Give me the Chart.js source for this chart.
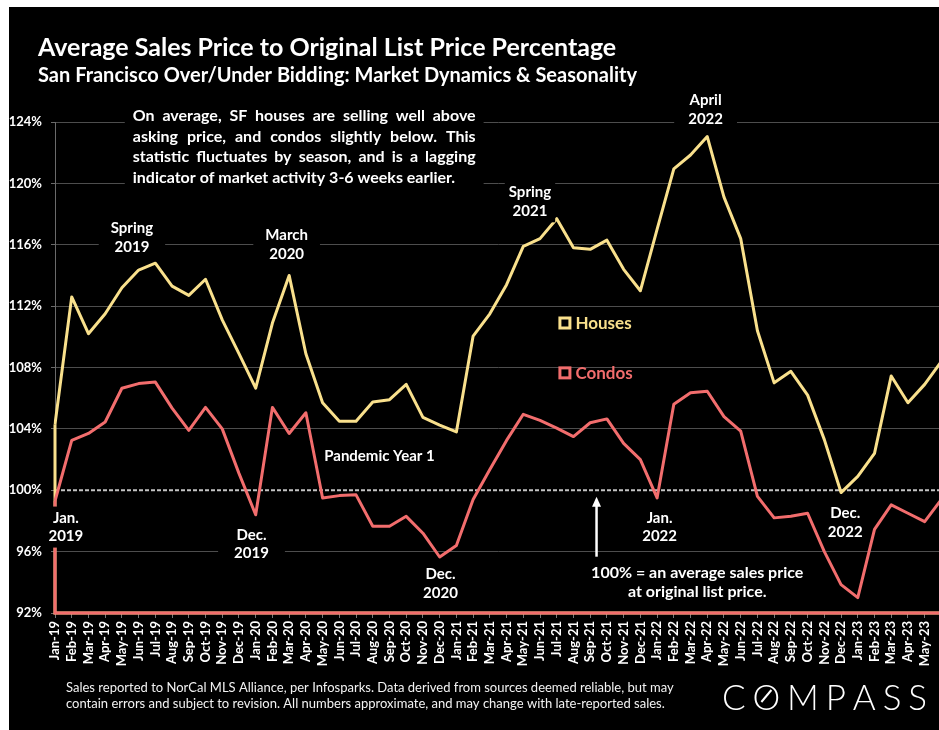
<!DOCTYPE html>
<html>
<head>
<meta charset="utf-8">
<script src="https://cdn.jsdelivr.net/npm/chart.js@4.4.1/dist/chart.umd.min.js"></script>
<style>
  html, body { margin: 0; padding: 0; background: #fff; overflow: hidden; width: 939px; height: 730px; }
  #wrap { position: absolute; left: 0; top: 0; width: 960px; height: 730px; }
</style>
</head>
<body>
<div id="wrap"><canvas id="chart" width="960" height="730"></canvas></div>
<script>
Chart.defaults.font.family = "Lato, 'Open Sans', sans-serif";
Chart.defaults.color = '#fff';

const YELLOW = '#F9E08C';
const RED = '#F26D6D';
const GRID = '#4d4d4d';

const months = [
  'Jan-19','Feb-19','Mar-19','Apr-19','May-19','Jun-19','Jul-19','Aug-19','Sep-19','Oct-19','Nov-19','Dec-19',
  'Jan-20','Feb-20','Mar-20','Apr-20','May-20','Jun-20','Jul-20','Aug-20','Sep-20','Oct-20','Nov-20','Dec-20',
  'Jan-21','Feb-21','Mar-21','Apr-21','May-21','Jun-21','Jul-21','Aug-21','Sep-21','Oct-21','Nov-21','Dec-21',
  'Jan-22','Feb-22','Mar-22','Apr-22','May-22','Jun-22','Jul-22','Aug-22','Sep-22','Oct-22','Nov-22','Dec-22',
  'Jan-23','Feb-23','Mar-23','Apr-23','May-23','Jun-23'
];

const houses = [
  104.3, 112.6, 110.2, 111.5, 113.2, 114.35, 114.8, 113.3, 112.7, 113.75, 111.1, 108.9,
  106.65, 110.9, 114.0, 108.9, 105.7, 104.5, 104.5, 105.75, 105.9, 106.9, 104.75, 104.25,
  103.8, 110.05, 111.5, 113.4, 115.9, 116.4, 117.7, 115.8, 115.7, 116.3, 114.4, 113.0,
  117.0, 120.95, 121.85, 123.05, 119.1, 116.4, 110.4, 107.0, 107.75, 106.2, 103.3, 99.85,
  100.9, 102.4, 107.45, 105.7, 106.9, 108.4
];

const condos = [
  99.3, 103.25, 103.7, 104.45, 106.65, 106.95, 107.05, 105.35, 103.9, 105.4, 104.0, 101.1,
  98.4, 105.4, 103.7, 105.05, 99.5, 99.65, 99.7, 97.65, 97.65, 98.3, 97.2, 95.65,
  96.4, 99.4, 101.35, 103.25, 104.95, 104.55, 104.05, 103.5, 104.4, 104.65, 103.05, 102.0,
  99.5, 105.6, 106.35, 106.45, 104.8, 103.85, 99.6, 98.2, 98.3, 98.5, 96.0, 93.85,
  93.0, 97.45, 99.05, 98.5, 97.95, 99.4
];

const Y_MIN = 92, Y_MAX = 124, Y_STEP = 4;
const PAR = 100; // sales price equal to list price

const title = 'Average Sales Price to Original List Price Percentage';
const subtitle = 'San Francisco Over/Under Bidding: Market Dynamics & Seasonality';
const paragraph = [
  'On average, SF houses are selling well above',
  'asking price, and condos slightly below. This',
  'statistic fluctuates by season, and is a lagging',
  'indicator of market activity 3-6 weeks earlier.'
];
const parNote = ['100% = an average sales price', 'at original list price.'];
const footer = [
  'Sales reported to NorCal MLS Alliance, per Infosparks. Data derived from sources deemed reliable, but may',
  'contain errors and subject to revision. All numbers approximate, and may change with late-reported sales.'
];

// callouts, anchored in data units: [month index, percent]
const notes = [
  { lines: ['Spring', '2019'], at: [4.6, 116.45], pad: 12 },
  { lines: ['March', '2020'], at: [13.85, 116.0], pad: 12 },
  { lines: ['Spring', '2021'], at: [28.4, 118.8], pad: 4 },
  { lines: ['April', '2022'], at: [38.9, 124.8], pad: 14 },
  { lines: ['Jan.', '2019'], at: [0.65, 97.6], pad: 4 },
  { lines: ['Dec.', '2019'], at: [11.75, 96.5], pad: 16 },
  { lines: ['Pandemic Year 1'], at: [19.4, 102.25], pad: 4 },
  { lines: ['Dec.', '2020'], at: [23.05, 93.9], pad: 4 },
  { lines: ['Jan.', '2022'], at: [36.15, 97.6], pad: 4 },
  { lines: ['Dec.', '2022'], at: [47.25, 97.9], pad: 4 }
];

function block(ctx, lines, cx, cy, lh, pad) {
  const w = Math.max(...lines.map(l => ctx.measureText(l).width));
  const h = lines.length * lh;
  ctx.fillStyle = '#000';
  ctx.fillRect(cx - w / 2 - pad, cy - h / 2 - 2, w + pad * 2, h + 4);
  ctx.fillStyle = '#fff';
  ctx.textAlign = 'center';
  ctx.textBaseline = 'middle';
  lines.forEach((l, i) => ctx.fillText(l, cx, cy - h / 2 + lh * (i + 0.5)));
}

function justified(ctx, lines, left, right, top, lh) {
  ctx.textAlign = 'left';
  ctx.textBaseline = 'middle';
  ctx.fillStyle = '#000';
  ctx.fillRect(left - 8, top - lh / 2 - 2, right - left + 16, lh * lines.length + 4);
  ctx.fillStyle = '#fff';
  lines.forEach((line, i) => {
    const y = top + i * lh;
    const words = line.split(' ');
    if (i === lines.length - 1) { ctx.fillText(line, left, y); return; }
    const used = words.reduce((s, w) => s + ctx.measureText(w).width, 0);
    const gap = (right - left - used) / (words.length - 1);
    let x = left;
    words.forEach(w => { ctx.fillText(w, x, y); x += ctx.measureText(w).width + gap; });
  });
}

const backdrop = {
  id: 'backdrop',
  beforeDraw(chart) {
    const ctx = chart.ctx;
    ctx.save();
    ctx.fillStyle = '#fff';
    ctx.fillRect(0, 0, chart.width, chart.height);
    ctx.fillStyle = '#000';
    ctx.fillRect(9, 7, chart.width, chart.height);
    ctx.restore();
  },
  beforeDatasetsDraw(chart) {
    const { ctx, chartArea, scales } = chart;
    const y = scales.y.getPixelForValue(PAR);
    ctx.save();
    ctx.strokeStyle = '#c4c4c4';
    ctx.lineWidth = 2;
    ctx.setLineDash([4, 2]);
    ctx.beginPath();
    ctx.moveTo(chartArea.left, y);
    ctx.lineTo(chartArea.right, y);
    ctx.stroke();
    ctx.restore();
  }
};

// area-chart style outline: drop each series down to the axis floor
const outline = {
  id: 'outline',
  afterDatasetDraw(chart, args) {
    const pts = args.meta.data;
    const ds = chart.data.datasets[args.index];
    const floor = chart.chartArea.bottom;
    const last = pts[pts.length - 1];
    const ctx = chart.ctx;
    ctx.save();
    ctx.strokeStyle = ds.borderColor;
    ctx.lineWidth = ds.borderWidth;
    ctx.beginPath();
    ctx.moveTo(pts[0].x, pts[0].y);
    ctx.lineTo(pts[0].x, floor);
    ctx.lineTo(last.x, floor);
    ctx.lineTo(last.x, last.y);
    ctx.stroke();
    ctx.restore();
  }
};

const labels = {
  id: 'labels',
  afterDatasetsDraw(chart) {
    const { ctx, scales } = chart;
    const px = v => scales.x.getPixelForValue(v);
    const py = v => scales.y.getPixelForValue(v);
    ctx.save();

    ctx.font = 'bold 16px Lato';
    justified(ctx, paragraph, px(4.65), px(25.15), py(124.4), 20.7);

    ctx.font = 'bold 15px Lato';
    notes.forEach(n => block(ctx, n.lines, px(n.at[0]), py(n.at[1]), 18.5, n.pad));

    ctx.font = 'bold 16px Lato';
    block(ctx, parNote, px(38.4), py(94.0), 19.5, 4);

    // arrow pointing up to the 100% line
    const ax = px(32.38), ay0 = py(95.67), ay1 = py(99.57);
    ctx.strokeStyle = '#fff';
    ctx.fillStyle = '#fff';
    ctx.lineWidth = 2.5;
    ctx.beginPath();
    ctx.moveTo(ax, ay0);
    ctx.lineTo(ax, ay1 + 8);
    ctx.stroke();
    ctx.beginPath();
    ctx.moveTo(ax, ay1);
    ctx.lineTo(ax - 4.5, ay1 + 10);
    ctx.lineTo(ax + 4.5, ay1 + 10);
    ctx.closePath();
    ctx.fill();

    // legend
    ctx.font = 'bold 17px Lato';
    ctx.textAlign = 'left';
    ctx.textBaseline = 'middle';
    chart.data.datasets.forEach((ds, i) => {
      const x = px(30.1), y = py(i === 0 ? 110.9 : 107.65);
      ctx.strokeStyle = ds.borderColor;
      ctx.lineWidth = 3;
      ctx.strokeRect(x + 1.5, y - 5, 10, 10);
      ctx.fillStyle = ds.borderColor;
      ctx.fillText(ds.label, x + 17, y + 1);
    });

    // titles
    ctx.fillStyle = '#fff';
    ctx.textBaseline = 'alphabetic';
    ctx.font = 'bold 25px Lato';
    ctx.fillText(title, 38, 56);
    ctx.font = 'bold 20px Lato';
    ctx.fillText(subtitle, 38, 82);

    ctx.font = '13px Lato';
    ctx.fillStyle = '#f2f2f2';
    footer.forEach((l, i) => ctx.fillText(l, 66, 692 + i * 15.5));

    // logo
    ctx.font = '300 35px Lato';
    ctx.fillStyle = '#fff';
    const word = 'COMPASS';
    const natural = [...word].reduce((s, c) => s + ctx.measureText(c).width, 0);
    const spacing = (205 - natural) / (word.length - 1);
    let lx = 722;
    [...word].forEach((c, i) => {
      ctx.fillText(c, lx, 710);
      const w = ctx.measureText(c).width;
      if (i === 1) {
        ctx.strokeStyle = '#fff';
        ctx.lineWidth = 2;
        ctx.beginPath();
        ctx.moveTo(lx + w / 2 - 5, 702);
        ctx.lineTo(lx + w / 2 + 5, 690);
        ctx.stroke();
      }
      lx += w + spacing;
    });

    ctx.restore();
  }
};

new Chart(document.getElementById('chart'), {
  type: 'line',
  data: {
    labels: months,
    datasets: [{
      label: 'Houses',
      data: houses,
      borderColor: YELLOW,
      borderWidth: 3,
      borderJoinStyle: 'round',
      pointRadius: 0,
      tension: 0,
      fill: false,
      order: 2
    }, {
      label: 'Condos',
      data: condos,
      borderColor: RED,
      borderWidth: 3,
      borderJoinStyle: 'round',
      pointRadius: 0,
      tension: 0,
      fill: false,
      order: 1
    }]
  },
  plugins: [backdrop, outline, labels],
  options: {
    responsive: false,
    animation: false,
    devicePixelRatio: 1,
    layout: { padding: { left: 9, right: 16, top: 122, bottom: 57 } },
    plugins: {
      legend: { display: false },
      tooltip: { enabled: false }
    },
    scales: {
      x: {
        border: { display: false },
        grid: { drawOnChartArea: false, drawTicks: true, tickLength: 5, tickColor: '#777' },
        ticks: {
          autoSkip: false, minRotation: 90, maxRotation: 90, padding: 3,
          color: '#fff', font: { size: 13, weight: 'bold' },
          // the last month sits past the frame edge, as in the original slide
          callback: (v, i) => (i === months.length - 1 ? '' : months[i])
        },
        afterFit: s => { s.height = 60; }
      },
      y: {
        min: Y_MIN,
        max: Y_MAX,
        border: { display: true, color: '#6a6a6a', width: 1 },
        grid: {
          color: c => (c.tick && c.tick.value === PAR) ? 'rgba(0,0,0,0)' : GRID,
          tickLength: 4,
          tickColor: '#6a6a6a'
        },
        ticks: {
          stepSize: Y_STEP, padding: 9, color: '#fff',
          font: { size: 13, weight: 'bold' },
          callback: v => v + '%'
        },
        afterFit: s => { s.width = 46; }
      }
    }
  }
});
</script>
</body>
</html>
